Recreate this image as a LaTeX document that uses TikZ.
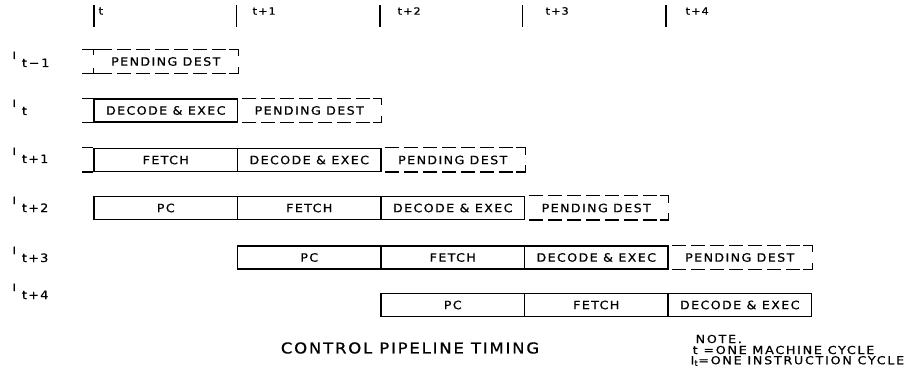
\documentclass[tikz,border=0pt]{standalone}
\usepackage{fontspec}
\setmainfont{DejaVu Sans}
\newfontfamily\lf[FakeStretch=1.1,LetterSpace=12,FakeBold=0.7]{DejaVu Sans}
\newfontfamily\nf[FakeStretch=1.15,LetterSpace=16,FakeBold=0.7]{DejaVu Sans}
\newcommand\rowlab[1]{\raisebox{8pt}{\fontsize{10}{10}\selectfont I}\hspace{6pt}#1}
\begin{document}
\begin{tikzpicture}[x=1pt,y=-1pt,line width=1.4pt,
  sbox/.style={draw, minimum width=143.5pt, minimum height=23pt, inner sep=0pt,
    font=\lf\fontsize{11.5}{13}\selectfont},
  dbox/.style={sbox, draw=none},
  dline/.style={dash pattern=on 14pt off 5pt, dash phase=14pt},
  ticklab/.style={anchor=west, inner sep=0pt, font=\lf\fontsize{10}{11}\selectfont},
  rlab/.style={anchor=base west, inner sep=0pt, font=\lf\fontsize{11.5}{12}\selectfont},
  notelab/.style={anchor=west, inner sep=0pt, font=\nf\fontsize{11}{12}\selectfont}]
\useasboundingbox (0,0) rectangle (911,377);
\newcommand\dashend[1]{%
  \draw[dline] (#1.north west) -- ([xshift=-9pt]#1.north east);
  \draw[dline] (#1.south west) -- ([xshift=-9pt]#1.south east);
  \draw ([xshift=-9pt]#1.north east) -- (#1.north east) -- ([yshift=-7pt]#1.north east);
  \draw ([xshift=-9pt]#1.south east) -- (#1.south east) -- ([yshift=7pt]#1.south east);}
\newcommand\overhang[1]{%
  \draw ([xshift=-11pt]#1.north west) -- (#1.north west);
  \draw ([xshift=-11pt]#1.south west) -- (#1.south west);}
% time ticks
\foreach \x/\lx/\l in {94/98/t, 236.5/252/t+1, 380/397/t+2, 522.5/545/t+3, 666/685/t+4}{
  \draw (\x,5) -- (\x,27);
  \node[ticklab] at (\lx,11) {\l};
}
% row labels
\node[rlab] (l0) at (12,67) {\rowlab{t\,−\,1}};
\node[rlab] (l1) at (12,115) {\rowlab{t}};
\node[rlab] (l2) at (12,163) {\rowlab{t+1}};
\node[rlab] (l3) at (12,212) {\rowlab{t+2}};
\node[rlab] (l4) at (12,262) {\rowlab{t+3}};
\node[rlab] (l5) at (12,299) {\rowlab{t+4}};
% row t-1
\node[dbox] (p0) at (165.75,61.5) {PENDING DEST};
\dashend{p0}
\draw ([xshift=-11pt]p0.north west) -- ([xshift=7pt]p0.north west);
\draw (p0.north west) -- ([yshift=-6pt]p0.north west);
\draw ([xshift=-11pt]p0.south west) -- ([xshift=7pt]p0.south west);
\draw (p0.south west) -- ([yshift=6pt]p0.south west);
% row t
\node[sbox] (d1) at (165.75,110.5) {DECODE \& EXEC};
\node[dbox] (p1) at (309.25,110.5) {PENDING DEST};
\dashend{p1}
\overhang{d1}
% row t+1
\node[sbox] (f2) at (165.75,160) {FETCH};
\node[sbox] (d2) at (309.25,160) {DECODE \& EXEC};
\node[dbox] (p2) at (452.75,160) {PENDING DEST};
\dashend{p2}
\overhang{f2}
% row t+2
\node[sbox] (c3) at (165.75,208) {PC};
\node[sbox] (f3) at (309.25,208) {FETCH};
\node[sbox] (d3) at (452.75,208) {DECODE \& EXEC};
\node[dbox] (p3) at (596.25,208) {PENDING DEST};
\dashend{p3}
% row t+3
\node[sbox] (c4) at (309.25,257.5) {PC};
\node[sbox] (f4) at (452.75,257.5) {FETCH};
\node[sbox] (d4) at (596.25,257.5) {DECODE \& EXEC};
\node[dbox] (p4) at (739.75,257.5) {PENDING DEST};
\dashend{p4}
% row t+4
\node[sbox] (c5) at (452.75,305) {PC};
\node[sbox] (f5) at (596.25,305) {FETCH};
\node[sbox] (d5) at (739.75,305) {DECODE \& EXEC};
% title and note
\node[font=\lf\fontsize{15}{17}\selectfont] (title) at (410,348) {CONTROL PIPELINE TIMING};
\node[notelab] (n1) at (695,339) {NOTE.};
\node[notelab] (n2) at (692,350) {t =ONE MACHINE CYCLE};
\node[notelab] (n3) at (690,361) {I\textsubscript{t}=ONE INSTRUCTION CYCLE};
\end{tikzpicture}
\end{document}
